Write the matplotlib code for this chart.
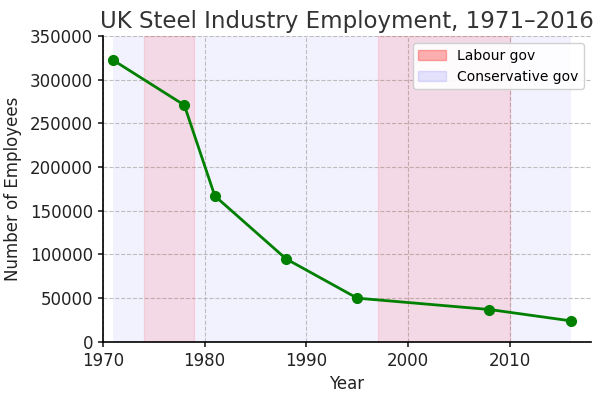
import matplotlib
matplotlib.use("Agg")
import matplotlib.pyplot as plt
from matplotlib.patches import Patch

years = [1971, 1978, 1981, 1988, 1995, 2008, 2016]
employees = [322500, 271000, 167000, 95000, 50000, 37000, 24000]

labour_periods = [(1974, 1979), (1997, 2010)]
conservative_period = (1971, 2016)

fig = plt.figure(figsize=(6.02, 3.97), dpi=100)
ax = fig.add_axes([0.171, 0.139, 0.811, 0.77])

ax.axvspan(*conservative_period, color="blue", alpha=0.05, lw=0, zorder=0)
for start, end in labour_periods:
    ax.axvspan(start, end, facecolor="red", edgecolor="red", alpha=0.1, lw=1, zorder=1)

ax.plot(years, employees, color="green", marker="o", markersize=7, linewidth=2, zorder=3)

ax.set_xlim(1970, 2018)
ax.set_ylim(0, 350000)
ax.set_xticks([1970, 1980, 1990, 2000, 2010])
ax.set_yticks(range(0, 350001, 50000))
ax.grid(True, linestyle="--", color="#b0b0b0", linewidth=0.8, alpha=0.8)
ax.set_axisbelow(True)

for side in ["top", "right"]:
    ax.spines[side].set_visible(False)
for side in ["left", "bottom"]:
    ax.spines[side].set_linewidth(1.2)
ax.tick_params(labelsize=12, length=3.5, width=1.2, direction="out", colors="#222222")

ax.set_title("UK Steel Industry Employment, 1971\u20132016", fontsize=16.5, color="#333333")
ax.set_xlabel("Year", fontsize=12, color="#222222")
ax.set_ylabel("Number of Employees", fontsize=12, color="#222222", labelpad=6)

handles = [
    Patch(facecolor="red", edgecolor="red", alpha=0.3, label="Labour gov"),
    Patch(facecolor="blue", edgecolor="blue", alpha=0.1, label="Conservative gov"),
]
ax.legend(handles=handles, loc="upper right", fontsize=10, framealpha=0.9)

fig.savefig("out.png", dpi=100)
